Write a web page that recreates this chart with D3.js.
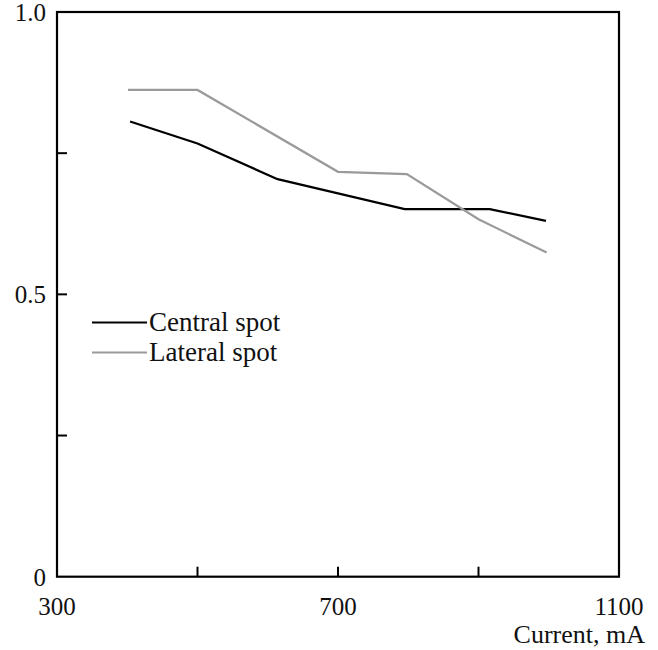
<!DOCTYPE html>
<html>
<head>
<meta charset="utf-8">
<script src="https://cdn.jsdelivr.net/npm/d3@7"></script>
<style>
  body { margin: 0; background: white; }
  svg text { font-family: "Liberation Serif", "Times New Roman", serif; fill: #111; }
</style>
</head>
<body>
<script>
//data
var central_x = [404, 500, 614, 795, 916, 996];
var central_y = [0.806, 0.767, 0.704, 0.651, 0.651, 0.630];
var lateral_x = [401, 500, 700, 798, 900, 997];
var lateral_y = [0.862, 0.862, 0.717, 0.713, 0.633, 0.574];
var x_ticks = [300, 500, 700, 900, 1100];
var x_labels = ["300", "", "700", "", "1100"];
var y_ticks = [0, 0.25, 0.5, 0.75, 1.0];
var y_labels = ["0", "", "0.5", "", "1.0"];
var series_names = ["Central spot", "Lateral spot"];
var series_colors = ["#000", "#9a9a9a"];

var w = 658, h = 650,
	plot_l = 57, plot_r = 619, plot_t = 12, plot_b = 576.7;

var svg = d3.select("body").append("svg")
	.attr("width", w)
	.attr("height", h);

var x = d3.scaleLinear().domain([300, 1100]).range([plot_l, plot_r]);
var y = d3.scaleLinear().domain([0, 1]).range([plot_b, plot_t]);

//frame
svg.append("rect")
	.attr("x", plot_l)
	.attr("y", plot_t)
	.attr("width", plot_r - plot_l)
	.attr("height", plot_b - plot_t)
	.attr("fill", "none")
	.attr("stroke", "#000")
	.attr("stroke-width", 2.2);

//inward ticks
svg.selectAll(".xtick").data(x_ticks.slice(1, -1)).enter().append("line")
	.attr("x1", function(d){ return x(d); })
	.attr("x2", function(d){ return x(d); })
	.attr("y1", plot_b)
	.attr("y2", plot_b - 10)
	.attr("stroke", "#000")
	.attr("stroke-width", 2);

svg.selectAll(".ytick").data(y_ticks.slice(1, -1)).enter().append("line")
	.attr("x1", plot_l)
	.attr("x2", plot_l + 10)
	.attr("y1", function(d){ return y(d); })
	.attr("y2", function(d){ return y(d); })
	.attr("stroke", "#000")
	.attr("stroke-width", 2);

//tick labels
svg.selectAll(".xlab").data(x_ticks).enter().append("text")
	.attr("x", function(d){ return x(d); })
	.attr("y", 615)
	.attr("text-anchor", "middle")
	.style("font-size", "25px")
	.text(function(d, i){ return x_labels[i]; });

svg.selectAll(".ylab").data(y_ticks).enter().append("text")
	.attr("x", 46)
	.attr("y", function(d){ return y(d) + 9; })
	.attr("text-anchor", "end")
	.style("font-size", "25px")
	.text(function(d, i){ return y_labels[i]; });

svg.append("text")
	.attr("x", 645)
	.attr("y", 643)
	.attr("text-anchor", "end")
	.style("font-size", "26px")
	.text("Current, mA");

//lines
var line = d3.line()
	.x(function(d){ return x(d[0]); })
	.y(function(d){ return y(d[1]); });

var series = [
	d3.zip(central_x, central_y),
	d3.zip(lateral_x, lateral_y)
];

series.forEach(function(s, i){
	svg.append("path")
		.datum(s)
		.attr("d", line)
		.attr("fill", "none")
		.attr("stroke", series_colors[i])
		.attr("stroke-width", 2.2);
});

//legend
series_names.forEach(function(name, i){
	var ly = 322.5 + i * 30;
	svg.append("line")
		.attr("x1", 92)
		.attr("x2", 147)
		.attr("y1", ly)
		.attr("y2", ly)
		.attr("stroke", series_colors[i])
		.attr("stroke-width", 2.2);
	svg.append("text")
		.attr("x", 149)
		.attr("y", ly + 8)
		.style("font-size", "27px")
		.text(name);
});
</script>
</body>
</html>
